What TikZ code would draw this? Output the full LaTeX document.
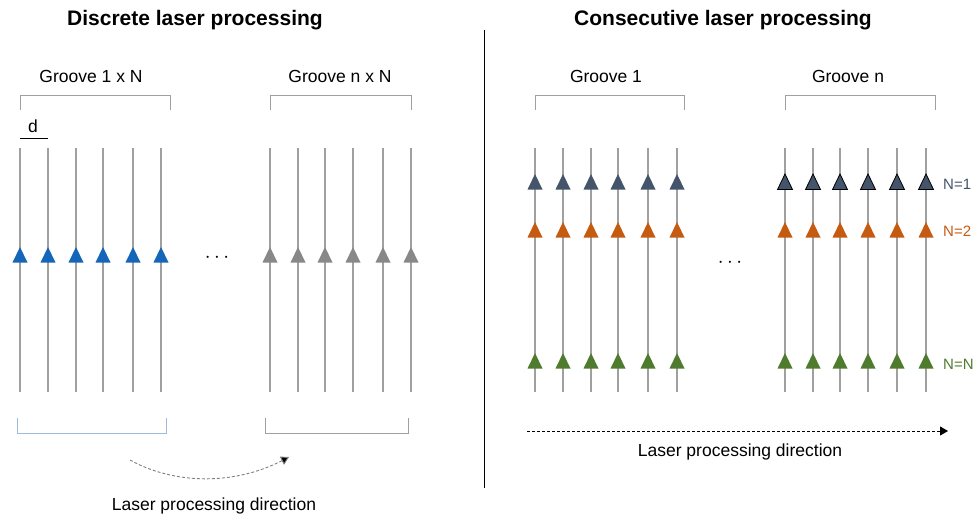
\documentclass[tikz,border=0pt]{standalone}
\usepackage{fontspec}
\setmainfont{Liberation Sans}
\usetikzlibrary{arrows.meta}
\definecolor{lgray}{HTML}{A0A0A0}
\definecolor{tblue}{HTML}{1565B8}
\definecolor{tgray}{HTML}{888888}
\definecolor{tslate}{HTML}{44546A}
\definecolor{torange}{HTML}{C55A11}
\definecolor{tgreen}{HTML}{4F7B2E}
\definecolor{bblue}{HTML}{9DB9E0}
\tikzset{
  gline/.style={draw=lgray, line width=1.3pt},
  brk/.style={draw=lgray, line width=1pt},
  lbl/.style={font=\fontsize{17.5}{20}\selectfont, inner sep=0pt},
  ttl/.style={font=\bfseries\fontsize{21}{24}\selectfont, inner sep=0pt},
  nlab/.style={font=\fontsize{15}{17}\selectfont, inner sep=0pt, anchor=west},
  dotsn/.style={font=\fontsize{22}{24}\selectfont, inner sep=0pt},
  dsh/.style={dash pattern=on 3pt off 2pt, line width=0.9pt},
}
\newcommand{\tri}[4][none]{%
  \filldraw[fill=#4, draw=#1, line width=0.8pt] (#2,#3-8) -- (#2+7.5,#3+7.5) -- (#2-7.5,#3+7.5) -- cycle;}
\begin{document}
\begin{tikzpicture}[x=1pt,y=-1pt]
\useasboundingbox (0,0) rectangle (973,519);
% titles
\node[ttl] (t1) at (195,20) {Discrete laser processing};
\node[ttl] (t2) at (723,20) {Consecutive laser processing};
% divider
\draw[black, line width=1pt] (484,30) -- (484,488);
% ---------- left panel
\node[lbl] (g1) at (91,76) {Groove 1 x N};
\node[lbl] (gn) at (340,76) {Groove n x N};
\draw[brk] (20,110) -- (20,95) -- (170,95) -- (170,110);
\draw[brk] (270,110) -- (270,95) -- (411,95) -- (411,110);
\node[lbl] (d) at (33,126) {d};
\draw[black, line width=0.6pt] (20,138) -- (48,138);
\foreach \x in {20,48,76,103,133,161}{
  \draw[gline] (\x,148) -- (\x,392);
  \tri{\x}{255}{tblue}
}
\foreach \x in {270,298,325,353,383,411}{
  \draw[gline] (\x,148) -- (\x,392);
  \tri{\x}{255}{tgray}
}
\node[dotsn] (dots1) at (217,258) {$\cdots$};
\draw[draw=bblue, line width=1pt] (17,418) -- (17,433) -- (166,433) -- (166,418);
\draw[brk] (265,418) -- (265,433) -- (408,433) -- (408,418);
\coordinate (a1) at (130,460);
\coordinate (a2) at (289,457);
\draw[dsh, draw=gray, -{Triangle[length=8pt,width=9pt,fill=black]}] (a1) .. controls (175,485) and (235,485) .. (a2);
\node[lbl] (ld1) at (214,506) {Laser processing direction};
% ---------- right panel
\node[lbl] (h1) at (606,76) {Groove 1};
\node[lbl] (hn) at (848,76) {Groove n};
\draw[brk] (535,110) -- (535,95) -- (684,95) -- (684,110);
\draw[brk] (785,110) -- (785,95) -- (935,95) -- (935,110);
\foreach \x in {535,563,591,618,648,677}{
  \draw[gline] (\x,148) -- (\x,392);
  \tri{\x}{182}{tslate}
  \tri{\x}{230}{torange}
  \tri{\x}{361}{tgreen}
}
\foreach \x in {785,813,840,868,897,926}{
  \draw[gline] (\x,148) -- (\x,392);
  \tri[black]{\x}{182}{tslate}
  \tri{\x}{230}{torange}
  \tri{\x}{361}{tgreen}
}
\node[dotsn] (dots2) at (730,263) {$\cdots$};
\node[nlab, text=tslate] (n1) at (943,184) {N=1};
\node[nlab, text=torange] (n2) at (943,231) {N=2};
\node[nlab, text=tgreen] (nn) at (943,364) {N=N};
\coordinate (b1) at (527,431);
\coordinate (b2) at (948,431);
\draw[dsh, black, -{Triangle[length=8pt,width=9pt]}] (b1) -- (b2);
\node[lbl] (ld2) at (740,452) {Laser processing direction};
\end{tikzpicture}
\end{document}
